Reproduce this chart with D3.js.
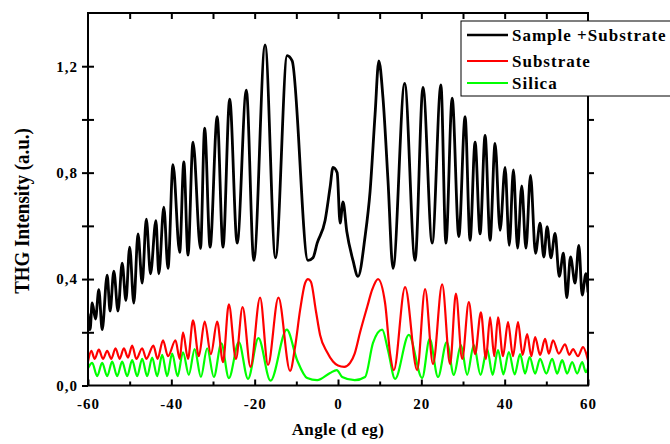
<html>
<head>
<meta charset="utf-8">
<script src="https://cdn.jsdelivr.net/npm/d3@7"></script>
<style>
	body { margin: 0; background: white; }
	text { font-family: "Liberation Serif", "Times New Roman", serif; font-weight: bold; fill: black; }
	.tick text { font-size: 15px; letter-spacing: 1px; }
</style>
</head>
<body>
<script>
// Sample + Substrate (black)
var blackAngle = [-60,-59.5,-59,-58.2,-57.4,-56.6,-55.4,-54.7,-53.8,-52.8,-51.8,-50.9,-50,-49,-48,-47,-46,-45,-43.7,-43,
	-41.8,-40.8,-39.6,-38,-37,-36,-34.8,-33,-32,-30.7,-29,-27.6,-26,-24.2,-22,-20.2,-17.5,-15,-12.2,-11,
	-7.2,-6,-5,-3.1,-1.9,-1.2,-0.2,0.5,1.2,2.1,3.6,4.8,6.5,7.7,8.9,9.8,10.8,12,13.2,16,
	18.5,20.4,22.6,24.7,25.9,27.4,29,30.5,31.7,32.9,34.1,35.3,36.5,37.7,38.9,40.1,41.1,42.1,43.1,44.1,
	45.1,46.2,47.4,48.5,49.4,50.2,51.1,52.1,53.1,54.1,54.9,55.8,56.9,57.8,58.6,59.5,60];
var blackVal = [0.27,0.21,0.31,0.25,0.36,0.21,0.415,0.28,0.43,0.28,0.46,0.32,0.52,0.31,0.57,0.385,0.625,0.42,0.62,0.42,
	0.67,0.44,0.83,0.50,0.84,0.49,0.915,0.515,0.967,0.52,1.01,0.52,1.076,0.535,1.11,0.47,1.28,0.48,1.24,1.22,
	0.47,0.48,0.535,0.62,0.745,0.82,0.80,0.61,0.69,0.58,0.47,0.41,0.56,0.73,1.02,1.22,1.08,0.77,0.44,1.135,
	0.47,1.12,0.535,1.13,0.535,1.08,0.56,1.01,0.546,0.915,0.57,0.94,0.546,0.91,0.583,0.82,0.527,0.81,0.516,0.75,
	0.516,0.79,0.497,0.61,0.483,0.597,0.48,0.572,0.41,0.497,0.33,0.483,0.385,0.527,0.34,0.42,0.35];

// Substrate (red)
var redAngle = [-60,-59.2,-58.4,-57.4,-56.4,-55.4,-54.4,-53.4,-52.4,-51.4,-50.4,-49.4,-48.4,-47,-46,-44.3,-43.3,-42,-40.8,-39,
	-38,-37.2,-36,-34.8,-33.4,-32,-30.5,-29,-27.6,-26.2,-24.5,-22.9,-21,-18.7,-16.8,-14.3,-11.5,-10.3,-9.1,-7.9,
	-7.2,-6.5,-5.3,-4.3,-2.6,-1.2,0,1.5,2.9,4,5.3,7,8.2,9.6,11.3,12.5,13.4,16.1,19,20.9,
	22.8,25,26.9,28.3,29.8,31.4,32.9,34.3,35.5,36.5,37.5,38.4,39.6,40.8,42,43.2,44.3,45.4,46.4,47.3,
	48.5,49.7,50.6,51.6,53,54.5,55.5,56.4,57.6,58.8,60];
var redVal = [0.09,0.13,0.10,0.135,0.10,0.13,0.10,0.14,0.10,0.14,0.105,0.15,0.10,0.14,0.10,0.15,0.10,0.17,0.11,0.17,
	0.10,0.20,0.10,0.245,0.11,0.24,0.118,0.24,0.088,0.305,0.10,0.295,0.07,0.33,0.077,0.33,0.055,0.145,0.283,0.385,
	0.40,0.39,0.28,0.19,0.125,0.09,0.075,0.07,0.085,0.12,0.20,0.295,0.36,0.40,0.31,0.12,0.058,0.37,0.058,0.362,
	0.08,0.38,0.08,0.345,0.10,0.313,0.118,0.275,0.10,0.256,0.11,0.256,0.11,0.238,0.11,0.238,0.115,0.193,0.11,0.182,
	0.115,0.175,0.12,0.17,0.12,0.155,0.115,0.137,0.11,0.144,0.095];

// Silica (green)
var greenAngle = [-60,-59,-57.8,-56.6,-55.4,-54.2,-53,-51.8,-50.6,-49.4,-48.2,-47,-45.8,-44.6,-43.4,-42.2,-41,-39.8,-38.5,-37.2,
	-35.8,-34.4,-32.9,-31.4,-29.8,-28,-26.2,-23.8,-21.6,-19.1,-16.2,-12.3,-9.8,-7.4,-5,-1.9,-0.3,1,4,6.5,
	8.4,10.6,12,13.7,17,20.2,22,24,26.1,27.8,29.5,31,32.6,34.2,35.8,37.1,38.4,39.7,41,42.4,
	43.7,44.9,46,47.3,48.5,50,51.4,52.6,53.8,55,56.2,57.4,58.6,59.5,60];
var greenVal = [0.065,0.085,0.035,0.085,0.035,0.09,0.035,0.09,0.035,0.095,0.035,0.10,0.035,0.105,0.035,0.115,0.035,0.12,0.035,0.125,
	0.04,0.137,0.032,0.14,0.032,0.158,0.028,0.163,0.025,0.178,0.018,0.21,0.095,0.028,0.02,0.047,0.058,0.032,0.02,0.032,
	0.16,0.21,0.133,0.025,0.19,0.028,0.175,0.032,0.163,0.04,0.152,0.04,0.152,0.04,0.137,0.04,0.133,0.042,0.126,0.042,
	0.118,0.045,0.107,0.045,0.10,0.045,0.10,0.045,0.095,0.045,0.088,0.045,0.088,0.05,0.065];

var seriesNames = ["Sample +Substrate", "Substrate", "Silica"];
var seriesColors = ["#000000", "#ff0000", "#00ff00"];
var xTicks = [-60, -40, -20, 0, 20, 40, 60];
var yTicks = [0, 0.4, 0.8, 1.2];

var width = 670;
var height = 444;
var plotLeft = 88, plotRight = 588, plotTop = 13, plotBottom = 385.5;

var svg = d3.select("body").append("svg")
	.attr("width", width)
	.attr("height", height);

var x = d3.scaleLinear().domain([-60, 60]).range([plotLeft, plotRight]);
var y = d3.scaleLinear().domain([0, 1.4]).range([plotBottom, plotTop]);

// clip so the lines stay inside the frame
svg.append("clipPath").attr("id", "plot")
	.append("rect")
	.attr("x", plotLeft).attr("y", plotTop)
	.attr("width", plotRight - plotLeft).attr("height", plotBottom - plotTop);

var line = d3.line()
	.x(function(d) { return x(d[0]); })
	.y(function(d) { return y(d[1]); })
	.curve(d3.curveMonotoneX);

var series = [
	d3.zip(blackAngle, blackVal),
	d3.zip(redAngle, redVal),
	d3.zip(greenAngle, greenVal)
];
var widths = [2.8, 2.2, 2.2];

var g = svg.append("g").attr("clip-path", "url(#plot)");
// draw green first, black last (black on top)
[2, 1, 0].forEach(function(i) {
	g.append("path")
		.datum(series[i])
		.attr("fill", "none")
		.attr("stroke", seriesColors[i])
		.attr("stroke-width", widths[i])
		.attr("stroke-linejoin", "round")
		.attr("d", line);
});

var comma = function(v) { return d3.format(".1f")(v).replace(".", ","); };
var plain = function(v) { return String(v); };

// bottom axis, ticks pointing inward
svg.append("g")
	.attr("transform", "translate(0," + plotBottom + ")")
	.call(d3.axisBottom(x).tickValues(xTicks).tickSize(-6).tickPadding(13).tickFormat(plain));
svg.append("g")
	.attr("transform", "translate(0," + plotBottom + ")")
	.call(d3.axisBottom(x).tickValues([-50, -30, -10, 10, 30, 50]).tickSize(-4).tickFormat(""));
// top axis
svg.append("g")
	.attr("transform", "translate(0," + plotTop + ")")
	.call(d3.axisTop(x).tickValues(d3.range(-50, 60, 10)).tickSize(-6).tickFormat(""));

// left axis, ticks crossing the frame
svg.append("g")
	.attr("transform", "translate(" + plotLeft + ",0)")
	.call(d3.axisLeft(y).tickValues(yTicks).tickSize(6).tickPadding(4).tickFormat(comma));
svg.append("g")
	.attr("transform", "translate(" + plotLeft + ",0)")
	.call(d3.axisRight(y).tickValues([0.2, 0.4, 0.6, 0.8, 1.0, 1.2]).tickSize(6).tickFormat(""));
svg.append("g")
	.attr("transform", "translate(" + plotLeft + ",0)")
	.call(d3.axisLeft(y).tickValues([0.2, 0.6, 1.0]).tickSize(6).tickFormat(""));
// right axis
svg.append("g")
	.attr("transform", "translate(" + plotRight + ",0)")
	.call(d3.axisLeft(y).tickValues([0.2, 0.4, 0.6, 0.8, 1.0, 1.2]).tickSize(-6).tickFormat(""));

svg.selectAll(".domain").remove();
svg.selectAll(".tick line").attr("stroke", "black").attr("stroke-width", 2);

// frame
svg.append("rect")
	.attr("x", plotLeft).attr("y", plotTop)
	.attr("width", plotRight - plotLeft).attr("height", plotBottom - plotTop)
	.attr("fill", "none")
	.attr("stroke", "black")
	.attr("stroke-width", 2);

// axis titles
svg.append("text")
	.attr("x", (plotLeft + plotRight) / 2)
	.attr("y", 435)
	.attr("text-anchor", "middle")
	.style("font-size", "17px")
	.style("letter-spacing", "0.4px")
	.text("Angle (d eg)");

svg.append("text")
	.attr("transform", "translate(29,211) rotate(-90) scale(1,1.15)")
	.attr("text-anchor", "middle")
	.style("font-size", "19px")
	.text("THG Intensity (a.u.)");

// legend
var legend = svg.append("g");
legend.append("rect")
	.attr("x", 461).attr("y", 21)
	.attr("width", 230).attr("height", 75)
	.attr("fill", "white")
	.attr("stroke", "black")
	.attr("stroke-width", 1);

var rows = [35, 61, 83];
seriesNames.forEach(function(name, i) {
	legend.append("line")
		.attr("x1", 467).attr("x2", 508)
		.attr("y1", rows[i]).attr("y2", rows[i])
		.attr("stroke", seriesColors[i])
		.attr("stroke-width", i == 0 ? 2.5 : 2);
	legend.append("text")
		.attr("x", 512)
		.attr("y", rows[i] + 6)
		.style("font-size", "17px")
		.style("letter-spacing", "1px")
		.text(name);
});
</script>
</body>
</html>
